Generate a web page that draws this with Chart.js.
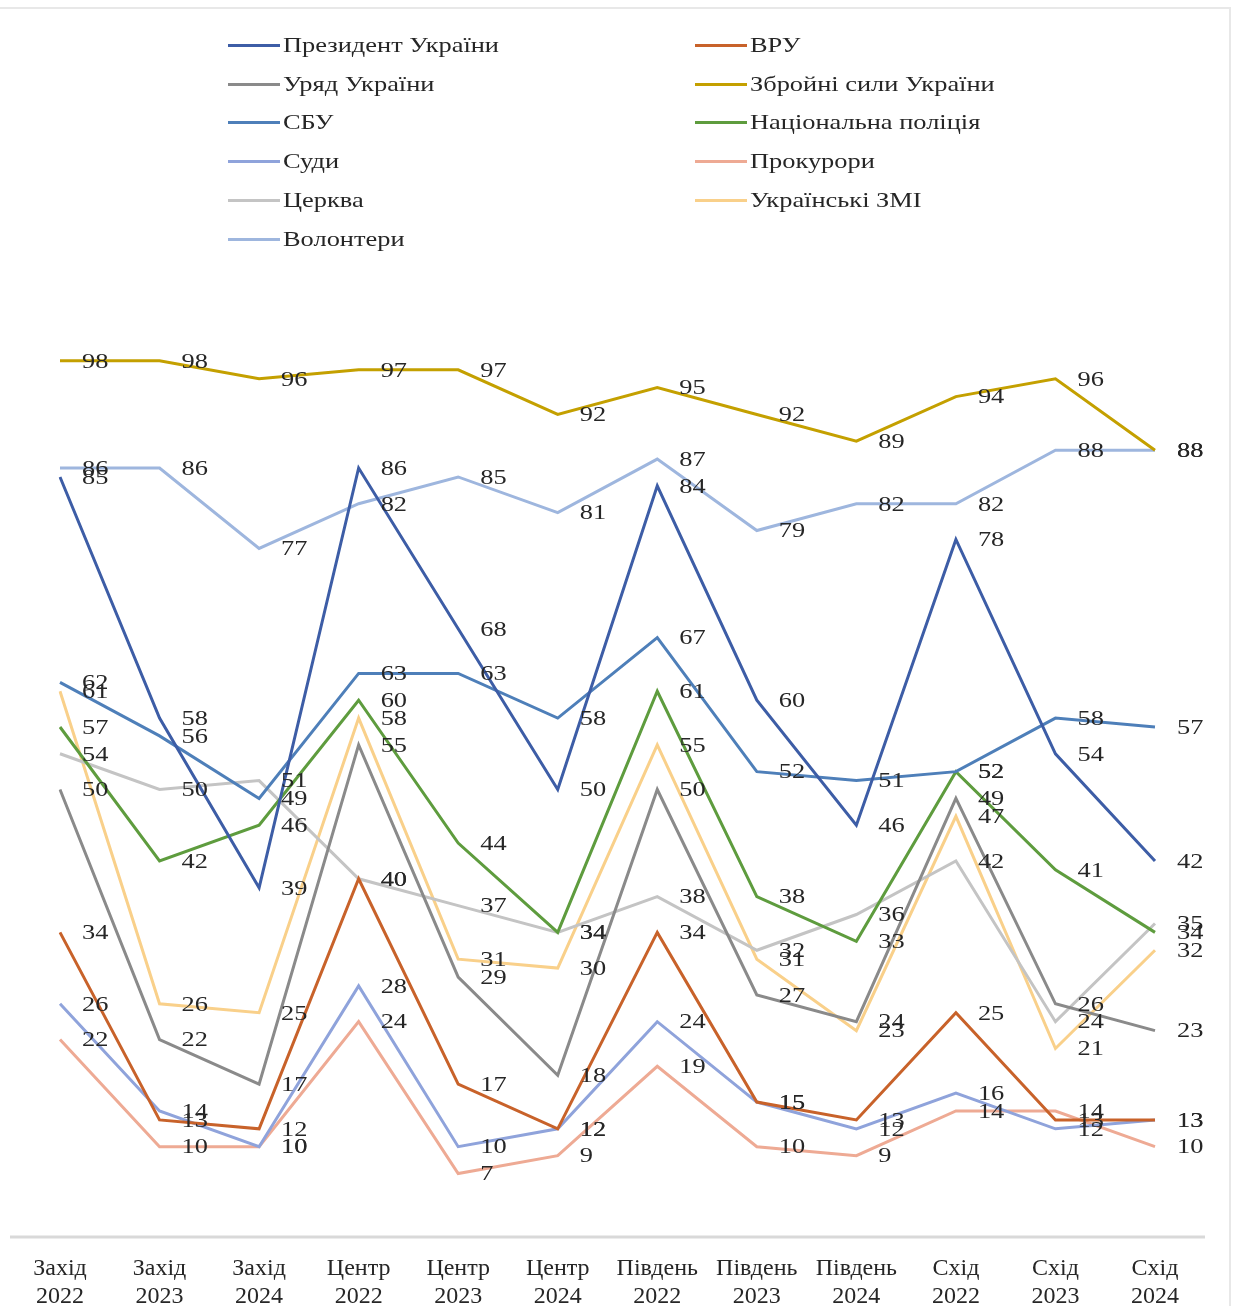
<!DOCTYPE html>
<html>
<head>
<meta charset="utf-8">
<script src="https://cdn.jsdelivr.net/npm/chart.js@4.4.1/dist/chart.umd.min.js"></script>
<style>
  body { margin: 0; background: #fff; }
  #wrap { position: relative; width: 1237px; height: 1306px; }
  #legend { position: absolute; left: 0; top: 0; width: 1237px; height: 300px;
            font-family: 'Liberation Serif', 'Times New Roman', serif; font-size: 22px; color: #262626; }
  .item { position: absolute; display: flex; align-items: center; height: 30px; white-space: nowrap; }
  .swatch { display: inline-block; width: 52px; height: 3px; margin-right: 3px; }
  .name { display: inline-block; transform: scaleX(1.2); transform-origin: left center; }
</style>
</head>
<body>
<div id="wrap">
  <canvas id="trustChart" width="1237" height="1306"></canvas>
  <div id="legend"></div>
</div>
<script>
// categories (region / year)
const categories = [
    ['Захід', '2022'], ['Захід', '2023'], ['Захід', '2024'],
    ['Центр', '2022'], ['Центр', '2023'], ['Центр', '2024'],
    ['Південь', '2022'], ['Південь', '2023'], ['Південь', '2024'],
    ['Схід', '2022'], ['Схід', '2023'], ['Схід', '2024']
];

// values, %
const president   = [85, 58, 39, 86, 68, 50, 84, 60, 46, 78, 54, 42];
const vru         = [34, 13, 12, 40, 17, 12, 34, 15, 13, 25, 13, 13];
const government  = [50, 22, 17, 55, 29, 18, 50, 27, 24, 49, 26, 23];
const army        = [98, 98, 96, 97, 97, 92, 95, 92, 89, 94, 96, 88];
const sbu         = [62, 56, 49, 63, 63, 58, 67, 52, 51, 52, 58, 57];
const police      = [57, 42, 46, 60, 44, 34, 61, 38, 33, 52, 41, 34];
const courts      = [26, 14, 10, 28, 10, 12, 24, 15, 12, 16, 12, 13];
const prosecutors = [22, 10, 10, 24, 7, 9, 19, 10, 9, 14, 14, 10];
const church      = [54, 50, 51, 40, 37, 34, 38, 32, 36, 42, 24, 35];
const media       = [61, 26, 25, 58, 31, 30, 55, 31, 23, 47, 21, 32];
const volunteers  = [86, 86, 77, 82, 85, 81, 87, 79, 82, 82, 88, 88];

const seriesNames = ['Президент України', 'ВРУ', 'Уряд України', 'Збройні сили України', 'СБУ',
    'Національна поліція', 'Суди', 'Прокурори', 'Церква', 'Українські ЗМІ', 'Волонтери'];
const seriesData = [president, vru, government, army, sbu, police, courts, prosecutors, church, media, volunteers];
const seriesColors = ['#3d5da6', '#c8622a', '#8a8a8a', '#c4a000', '#4e7fb9',
    '#5e9c3e', '#8fa3db', '#eeaa94', '#c4c4c4', '#f9d08a', '#9eb6de'];

// legend in two columns, like the original
const legend = document.getElementById('legend');
const rowTops = [45, 84, 122, 161, 200, 239];
seriesNames.forEach((name, i) => {
    const el = document.createElement('div');
    el.className = 'item';
    el.style.left = (i % 2 === 0 ? 228 : 695) + 'px';
    el.style.top = (rowTops[Math.floor(i / 2)] - 15) + 'px';
    el.innerHTML = '<span class="swatch" style="background:' + seriesColors[i] + '"></span>' +
        '<span class="name">' + name + '</span>';
    legend.appendChild(el);
});

// value labels to the right of each point + frame lines
const valueLabels = {
    id: 'valueLabels',
    afterDatasetsDraw(chart) {
        const ctx = chart.ctx;
        chart.data.datasets.forEach((ds, i) => {
            chart.getDatasetMeta(i).data.forEach((pt, j) => {
                ctx.save();
                ctx.font = '22px "Liberation Serif", serif';
                ctx.fillStyle = '#262626';
                ctx.textAlign = 'left';
                ctx.textBaseline = 'middle';
                // the original text is a bit wider than plain Times
                ctx.translate(pt.x + 22, pt.y + 1);
                ctx.scale(1.2, 1);
                ctx.fillText(ds.data[j], 0, 0);
                ctx.restore();
            });
        });
    },
    beforeDraw(chart) {
        const ctx = chart.ctx;
        const yBottom = chart.scales.y.getPixelForValue(0);
        ctx.save();
        ctx.strokeStyle = '#d9d9d9';
        ctx.lineWidth = 3;
        ctx.beginPath();
        ctx.moveTo(10, yBottom + 1);
        ctx.lineTo(1205, yBottom + 1);
        ctx.stroke();
        ctx.strokeStyle = '#e8e8e8';
        ctx.lineWidth = 2;
        ctx.beginPath();
        ctx.moveTo(0, 8);
        ctx.lineTo(1230, 8);
        ctx.lineTo(1230, 1306);
        ctx.stroke();
        ctx.restore();
    }
};

const ctx = document.getElementById('trustChart').getContext('2d');
new Chart(ctx, {
    type: 'line',
    data: {
        labels: categories,
        datasets: seriesData.map((d, i) => ({
            label: seriesNames[i],
            data: d,
            borderColor: seriesColors[i],
            backgroundColor: seriesColors[i],
            borderWidth: 3,
            pointRadius: 0,
            tension: 0
        }))
    },
    options: {
        responsive: false,
        animation: false,
        layout: { padding: { left: 60, right: 82, top: 343, bottom: 0 } },
        plugins: { legend: { display: false }, tooltip: { enabled: false } },
        scales: {
            x: {
                offset: false,
                grid: { display: false, drawTicks: false },
                border: { display: false },
                ticks: {
                    autoSkip: false,
                    maxRotation: 0,
                    padding: 19,
                    color: '#262626',
                    font: { family: '"Liberation Serif", serif', size: 24, lineHeight: 1.17 }
                },
                afterFit: s => { s.height = 70; }
            },
            y: {
                display: false,
                min: 0,
                max: 100
            }
        }
    },
    plugins: [valueLabels]
});
</script>
</body>
</html>
